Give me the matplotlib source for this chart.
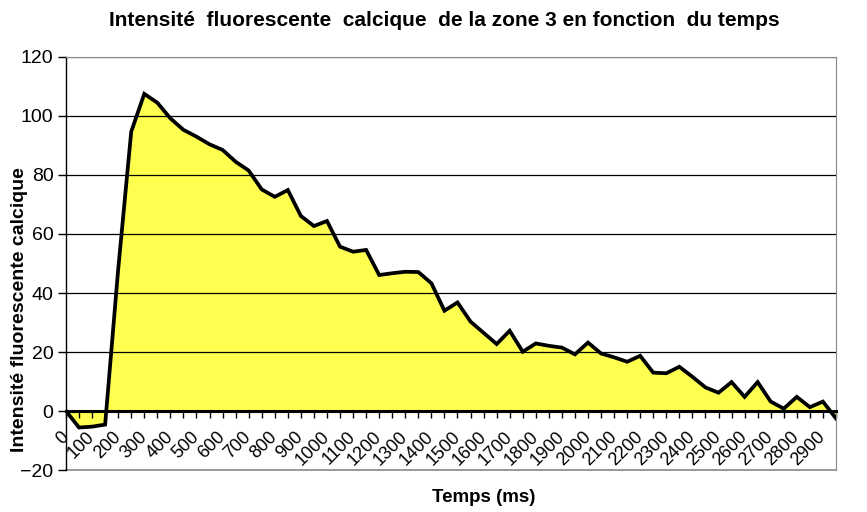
"""Intensité fluorescente calcique (zone 3) - graphique en aires façon Excel."""

import matplotlib

matplotlib.use("Agg")
import matplotlib.pyplot as plt

plt.rcParams["font.family"] = ["Liberation Sans", "DejaVu Sans"]

# temps en ms (un point toutes les 50 ms)
temps_ms = [
    0, 50, 100, 150, 200, 250, 300, 350, 400, 450,
    500, 550, 600, 650, 700, 750, 800, 850, 900, 950,
    1000, 1050, 1100, 1150, 1200, 1250, 1300, 1350, 1400, 1450,
    1500, 1550, 1600, 1650, 1700, 1750, 1800, 1850, 1900, 1950,
    2000, 2050, 2100, 2150, 2200, 2250, 2300, 2350, 2400, 2450,
    2500, 2550, 2600, 2650, 2700, 2750, 2800, 2850, 2900, 2950,
]
intensite = [
    0.0, -5.6, -5.3, -4.6, 48.0, 94.7, 107.5, 104.5, 99.2, 95.3,
    93.0, 90.4, 88.5, 84.5, 81.5, 75.1, 72.6, 74.9, 66.1, 62.7,
    64.4, 55.7, 54.0, 54.6, 46.1, 46.7, 47.2, 47.1, 43.3, 34.0,
    36.8, 30.3, 26.5, 22.7, 27.2, 20.1, 22.9, 22.1, 21.5, 19.2,
    23.2, 19.5, 18.2, 16.7, 18.7, 13.0, 12.8, 15.0, 11.6, 8.0,
    6.2, 9.8, 4.8, 9.8, 3.2, 0.8, 4.8, 1.3, 3.2, -2.5,
]
y_ticks = [-20, 0, 20, 40, 60, 80, 100, 120]

fig = plt.figure(figsize=(8.67, 5.12), dpi=100)
ax = fig.add_axes([0.0761, 0.082, 0.8881, 0.8067])

ax.fill_between(temps_ms, intensite, 0, color="#FFFF50", zorder=1, linewidth=0)
for yv in y_ticks[2:-1]:
    ax.axhline(yv, color="black", linewidth=0.9, zorder=1.5)
ax.axhline(120, color="#888888", linewidth=1.0, zorder=1.5)
ax.plot(temps_ms, intensite, color="black", linewidth=2.7, zorder=3,
        solid_joinstyle="miter")

ax.set_xlim(0, 2950)
ax.set_ylim(-20, 120)
ax.set_yticks(y_ticks)
ax.set_xticks(temps_ms)
ax.set_xticklabels([str(t) if t % 100 == 0 else "" for t in temps_ms])

ax.spines["bottom"].set_position(("data", 0))
ax.spines["bottom"].set_linewidth(2.2)
ax.spines["bottom"].set_zorder(2.5)
ax.spines["left"].set_color("black")
ax.spines["left"].set_linewidth(1.0)
for side in ("top", "right"):
    ax.spines[side].set_color("#888888")
ax.axhline(-20, color="#888888", linewidth=1.2, clip_on=False, zorder=0.5)

ax.tick_params(axis="y", direction="out", length=6, width=1, pad=3, labelsize=14)
ax.tick_params(axis="x", direction="out", length=5, width=1, pad=12, labelsize=13)
plt.setp(ax.get_xticklabels(), rotation=45, ha="right", va="center",
         rotation_mode="anchor")

fig.text(0.512, 1 - 20 / 512,
         "Intensité  fluorescente  calcique  de la zone 3 en fonction  du temps",
         ha="center", va="center", fontsize=15, fontweight="bold")
fig.text(20 / 867, 1 - 310 / 512, "Intensité fluorescente calcique",
         rotation=90, ha="center", va="center", fontsize=14, fontweight="bold")
fig.text(484 / 867, 1 - 497 / 512, "Temps (ms)",
         ha="center", va="center", fontsize=13.5, fontweight="bold")

fig.savefig("out.png", dpi=100)
plt.close(fig)
